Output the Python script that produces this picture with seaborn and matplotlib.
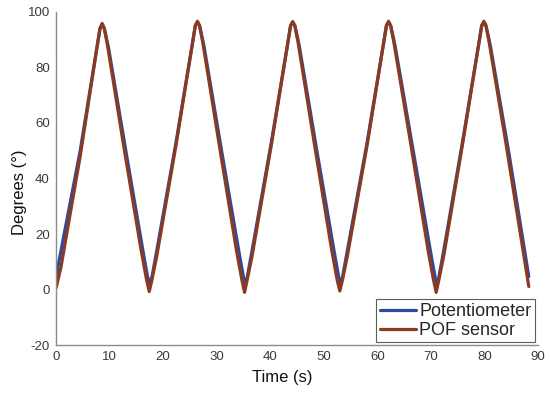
import matplotlib
matplotlib.use("Agg")
import matplotlib.pyplot as plt
import pandas as pd
import seaborn as sns

# values
pot_t = [0.0, 1.5, 4.5, 7.7, 8.2, 8.6, 9.0, 9.8, 13.2, 16.4, 17.1, 17.5, 17.9,
         18.8, 22.4, 25.5, 26.0, 26.4, 26.8, 27.6, 31.0, 34.3, 35.0, 35.3, 35.7,
         36.6, 40.2, 43.3, 43.8, 44.2, 44.6, 45.4, 48.8, 52.1, 52.8, 53.1, 53.5,
         54.4, 58.1, 61.2, 61.7, 62.1, 62.5, 63.3, 66.8, 70.1, 70.8, 71.1, 71.5,
         72.4, 75.9, 79.0, 79.5, 79.9, 80.3, 81.1, 84.6, 88.3]
pot_v = [4.7, 20, 50, 88, 94, 95.5, 94, 87, 48, 12, 4.5, 2.3, 4.5,
         14, 53, 89, 95, 96.3, 95, 88, 49, 12, 4.5, 2.0, 4.5,
         14, 53, 89, 95, 96.2, 95, 88, 49, 12, 4.5, 2.5, 4.5,
         14, 53, 89, 95, 96.3, 95, 88, 49, 12, 4.5, 1.5, 4.5,
         14, 53, 89, 95, 96.3, 95, 88, 49, 4.7]

pof_t = [0.0, 0.9, 4.5, 7.7, 8.2, 8.6, 9.0, 9.6, 12.6, 15.9, 16.9, 17.4, 17.9,
         18.8, 22.4, 25.5, 26.0, 26.4, 26.8, 27.4, 30.4, 33.7, 34.7, 35.2, 35.7,
         36.6, 40.2, 43.3, 43.8, 44.2, 44.6, 45.2, 48.2, 51.5, 52.5, 53.0, 53.5,
         54.4, 58.1, 61.2, 61.7, 62.1, 62.5, 63.1, 66.2, 69.5, 70.5, 71.0, 71.5,
         72.4, 75.9, 79.0, 79.5, 79.9, 80.3, 80.9, 84.0, 88.3]
pof_v = [0.6, 8, 48, 88, 94, 95.8, 94, 88, 52, 14, 3.5, -0.7, 3.5,
         12, 52, 89, 95, 96.6, 95, 89, 53, 14, 3.5, -1.0, 3.5,
         12, 52, 89, 95, 96.5, 95, 89, 53, 14, 3.5, -0.5, 3.5,
         12, 52, 89, 95, 96.6, 95, 89, 53, 14, 3.5, -1.0, 3.5,
         12, 52, 89, 95, 96.6, 95, 89, 53, 1.1]

series = ["Potentiometer", "POF sensor"]
x_ticks = [0, 10, 20, 30, 40, 50, 60, 70, 80, 90]
y_ticks = [-20, 0, 20, 40, 60, 80, 100]

df = pd.concat([
    pd.DataFrame({"t": pot_t, "v": pot_v, "s": series[0]}),
    pd.DataFrame({"t": pof_t, "v": pof_v, "s": series[1]}),
])

sns.set_style("white")
plt.rcParams["font.family"] = ["Liberation Sans", "DejaVu Sans"]
plt.rcParams["axes.unicode_minus"] = False

fig = plt.figure(figsize=(5.5, 3.94), dpi=100)
ax = fig.add_axes([0.102, 0.124, 0.876, 0.846])

sns.lineplot(data=df, x="t", y="v", hue="s", hue_order=series,
             palette=["#2f4a9c", "#8a3a1e"], estimator=None, sort=False,
             linewidth=2.3, ax=ax)

ax.set_xlim(0, 90)
ax.set_ylim(-20, 100)
ax.set_xticks(x_ticks)
ax.set_yticks(y_ticks)
for side in ("top", "right"):
    ax.spines[side].set_visible(False)
for side in ("left", "bottom"):
    ax.spines[side].set_color("#8c8c8c")
    ax.spines[side].set_linewidth(1.0)
ax.tick_params(direction="in", length=4, width=0.8, color="#8c8c8c",
               labelsize=9.5, labelcolor="#3a3a3a", pad=4.5)

ax.set_xlabel("Time (s)", fontsize=12, color="#111111")
ax.set_ylabel("Degrees (°)", fontsize=12, color="#111111")
ax.xaxis.set_label_coords(0.47, -0.075)
ax.yaxis.set_label_coords(-0.06, 0.46)

leg = ax.legend(loc="lower right", fontsize=13, frameon=True, fancybox=False,
                borderaxespad=0.15, handlelength=2.0, handletextpad=0.2,
                borderpad=0.2, labelspacing=0.1)
leg.get_frame().set_edgecolor("#333333")
leg.get_frame().set_linewidth(0.8)
for line in leg.get_lines():
    line.set_linewidth(2.3)

fig.savefig("out.png", dpi=100)
